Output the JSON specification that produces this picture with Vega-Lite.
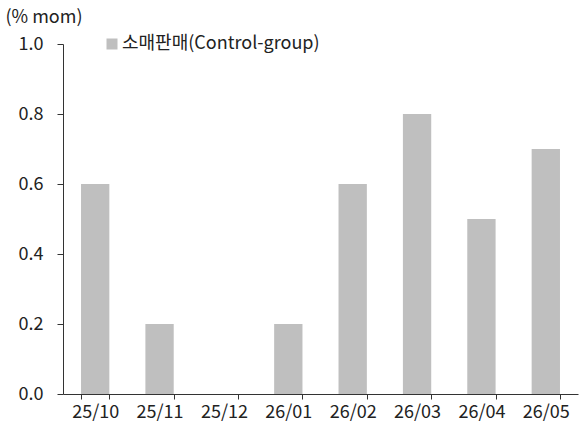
{
  "$schema": "https://vega.github.io/schema/vega-lite/v6.json",
  "width": 515,
  "height": 350,
  "autosize": {"type": "none"},
  "padding": {"left": 63, "top": 44, "right": 2, "bottom": 39},
  "background": "white",
  "config": {
    "view": {"stroke": null},
    "font": "Noto Sans CJK KR"
  },
  "data": {
    "values": [
      {"month": "25/10", "value": 0.6, "series": "소매판매(Control-group)"},
      {"month": "25/11", "value": 0.2, "series": "소매판매(Control-group)"},
      {"month": "25/12", "value": 0.0, "series": "소매판매(Control-group)"},
      {"month": "26/01", "value": 0.2, "series": "소매판매(Control-group)"},
      {"month": "26/02", "value": 0.6, "series": "소매판매(Control-group)"},
      {"month": "26/03", "value": 0.8, "series": "소매판매(Control-group)"},
      {"month": "26/04", "value": 0.5, "series": "소매판매(Control-group)"},
      {"month": "26/05", "value": 0.7, "series": "소매판매(Control-group)"}
    ]
  },
  "mark": {"type": "bar"},
  "encoding": {
    "x": {
      "field": "month",
      "type": "ordinal",
      "sort": null,
      "scale": {"paddingInner": 0.56, "paddingOuter": 0.28},
      "axis": {
        "title": null,
        "labelAngle": 0,
        "labelFontSize": 18,
        "labelColor": "#222",
        "labelPadding": 4,
        "tickBand": "extent",
        "tickSize": 5,
        "tickColor": "#333",
        "domainColor": "#333",
        "grid": false
      }
    },
    "y": {
      "field": "value",
      "type": "quantitative",
      "scale": {"domain": [0, 1.0], "nice": false},
      "axis": {
        "values": [0, 0.2, 0.4, 0.6, 0.8, 1.0],
        "format": ".1f",
        "grid": false,
        "labelFontSize": 18,
        "labelColor": "#222",
        "labelPadding": 14,
        "tickSize": 6,
        "tickColor": "#333",
        "domainColor": "#333",
        "title": "(% mom)",
        "titleAngle": 0,
        "titleAlign": "left",
        "titleBaseline": "alphabetic",
        "titleX": -58,
        "titleY": -22,
        "titleFontSize": 18,
        "titleFontWeight": "normal",
        "titleColor": "#222"
      }
    },
    "color": {
      "field": "series",
      "type": "nominal",
      "scale": {"range": ["#BFBFBF"]},
      "legend": {
        "title": null,
        "orient": "none",
        "legendX": 40,
        "legendY": -9,
        "symbolType": "square",
        "symbolSize": 121,
        "symbolStrokeWidth": 0,
        "labelFontSize": 18,
        "labelColor": "#222",
        "labelOffset": 1,
        "labelLimit": 400
      }
    }
  }
}
